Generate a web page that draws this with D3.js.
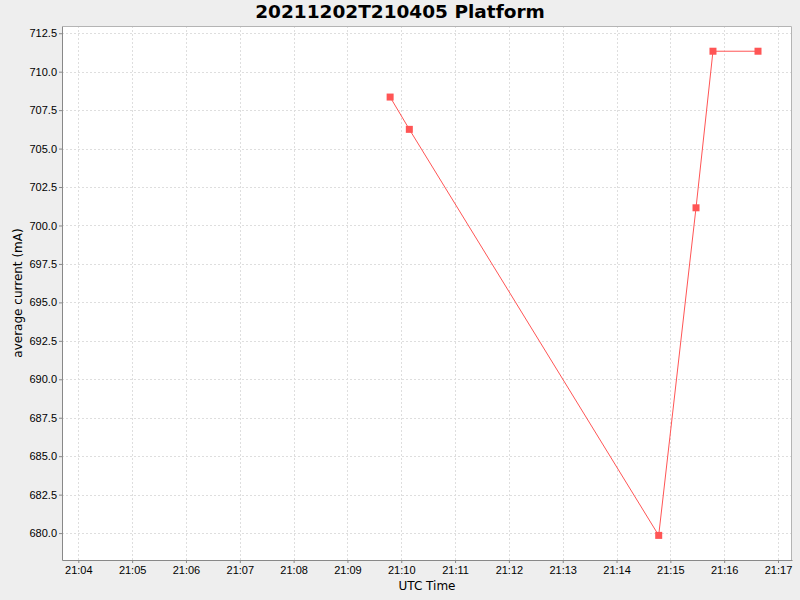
<!DOCTYPE html>
<meta charset="utf-8">
<style>
  body { margin: 0; background: #eeeeee; }
  svg { display: block; font-family: "DejaVu Sans", sans-serif; }
  .grid line { stroke: #dedede; stroke-dasharray: 2,2; }
  .axis text { font-size: 11px; fill: #000; }
</style>
<svg width="800" height="600"></svg>
<script src="https://cdn.jsdelivr.net/npm/d3@7"></script>
<script>

// timestamps (UTC) and average current readings
var times = ["2021-12-02T21:09:47.6Z", "2021-12-02T21:10:09Z", "2021-12-02T21:14:47Z",
             "2021-12-02T21:15:28.6Z", "2021-12-02T21:15:47.5Z", "2021-12-02T21:16:37.7Z"];
var current = [708.35, 706.25, 679.85, 701.15, 711.33, 711.33];
var yTicks = [680.0, 682.5, 685.0, 687.5, 690.0, 692.5, 695.0, 697.5, 700.0, 702.5, 705.0, 707.5, 710.0, 712.5];
var xTickLabels = ["21:04", "21:05", "21:06", "21:07", "21:08", "21:09", "21:10",
                   "21:11", "21:12", "21:13", "21:14", "21:15", "21:16", "21:17"];

var svg = d3.select("svg"),
    margin = {top: 26, right: 8, bottom: 40, left: 62},
    width = +svg.attr("width") - margin.left - margin.right,
    height = +svg.attr("height") - margin.top - margin.bottom;

var data = times.map(function(t, i) { return [new Date(t), current[i]]; });
var xTicks = xTickLabels.map(function(s) { return new Date("2021-12-02T" + s + ":00Z"); });

var x = d3.scaleUtc()
    .domain([new Date("2021-12-02T21:03:41.8Z"), new Date("2021-12-02T21:17:15.6Z")])
    .range([0, width]);
var y = d3.scaleLinear()
    .domain([678.25, 712.97])
    .range([height, 0]);

var g = svg.append("g")
    .attr("transform", "translate(" + margin.left + "," + margin.top + ")");

g.append("rect")
    .attr("width", width)
    .attr("height", height)
    .attr("fill", "#fff");

// grid
g.append("g").attr("class", "grid")
  .selectAll("line").data(xTicks).enter().append("line")
    .attr("x1", function(d) { return Math.round(x(d)) + 0.5; })
    .attr("x2", function(d) { return Math.round(x(d)) + 0.5; })
    .attr("y1", 0).attr("y2", height);
g.append("g").attr("class", "grid")
  .selectAll("line").data(yTicks).enter().append("line")
    .attr("y1", function(d) { return Math.round(y(d)) + 0.5; })
    .attr("y2", function(d) { return Math.round(y(d)) + 0.5; })
    .attr("x1", 0).attr("x2", width);

// top and right border
g.append("path")
    .attr("d", "M0.5,0.5H" + (width - 0.5) + "V" + height)
    .attr("fill", "none")
    .attr("stroke", "#b4b4b4");

var xAxis = g.append("g")
    .attr("class", "axis")
    .attr("transform", "translate(0," + height + ")")
    .call(d3.axisBottom(x).tickValues(xTicks).tickFormat(d3.utcFormat("%H:%M"))
      .tickSizeInner(3).tickSizeOuter(0).tickPadding(3));
var yAxis = g.append("g")
    .attr("class", "axis")
    .call(d3.axisLeft(y).tickValues(yTicks).tickFormat(d3.format(".1f"))
      .tickSizeInner(3).tickSizeOuter(0).tickPadding(2));
[xAxis, yAxis].forEach(function(a) {
  a.select(".domain").attr("stroke", "#888");
  a.selectAll(".tick line").attr("stroke", "#888");
});

var line = d3.line()
    .x(function(d) { return x(d[0]); })
    .y(function(d) { return y(d[1]); });

g.append("path")
    .datum(data)
    .attr("fill", "none")
    .attr("stroke", "#ff5555")
    .attr("stroke-width", 1)
    .attr("d", line);

g.selectAll(".pt").data(data).enter().append("rect")
    .attr("class", "pt")
    .attr("x", function(d) { return x(d[0]) - 3.5; })
    .attr("y", function(d) { return y(d[1]) - 3.5; })
    .attr("width", 7)
    .attr("height", 7)
    .attr("fill", "#ff5555");

svg.append("text")
    .attr("x", 400)
    .attr("y", 18)
    .attr("text-anchor", "middle")
    .attr("font-size", "18.5px")
    .attr("font-weight", "bold")
    .text("20211202T210405 Platform");

svg.append("text")
    .attr("x", margin.left + width / 2)
    .attr("y", 590)
    .attr("text-anchor", "middle")
    .attr("font-size", "12px")
    .text("UTC Time");

svg.append("text")
    .attr("transform", "translate(22," + (margin.top + height / 2) + ") rotate(-90)")
    .attr("text-anchor", "middle")
    .attr("font-size", "12px")
    .text("average current (mA)");

</script>
